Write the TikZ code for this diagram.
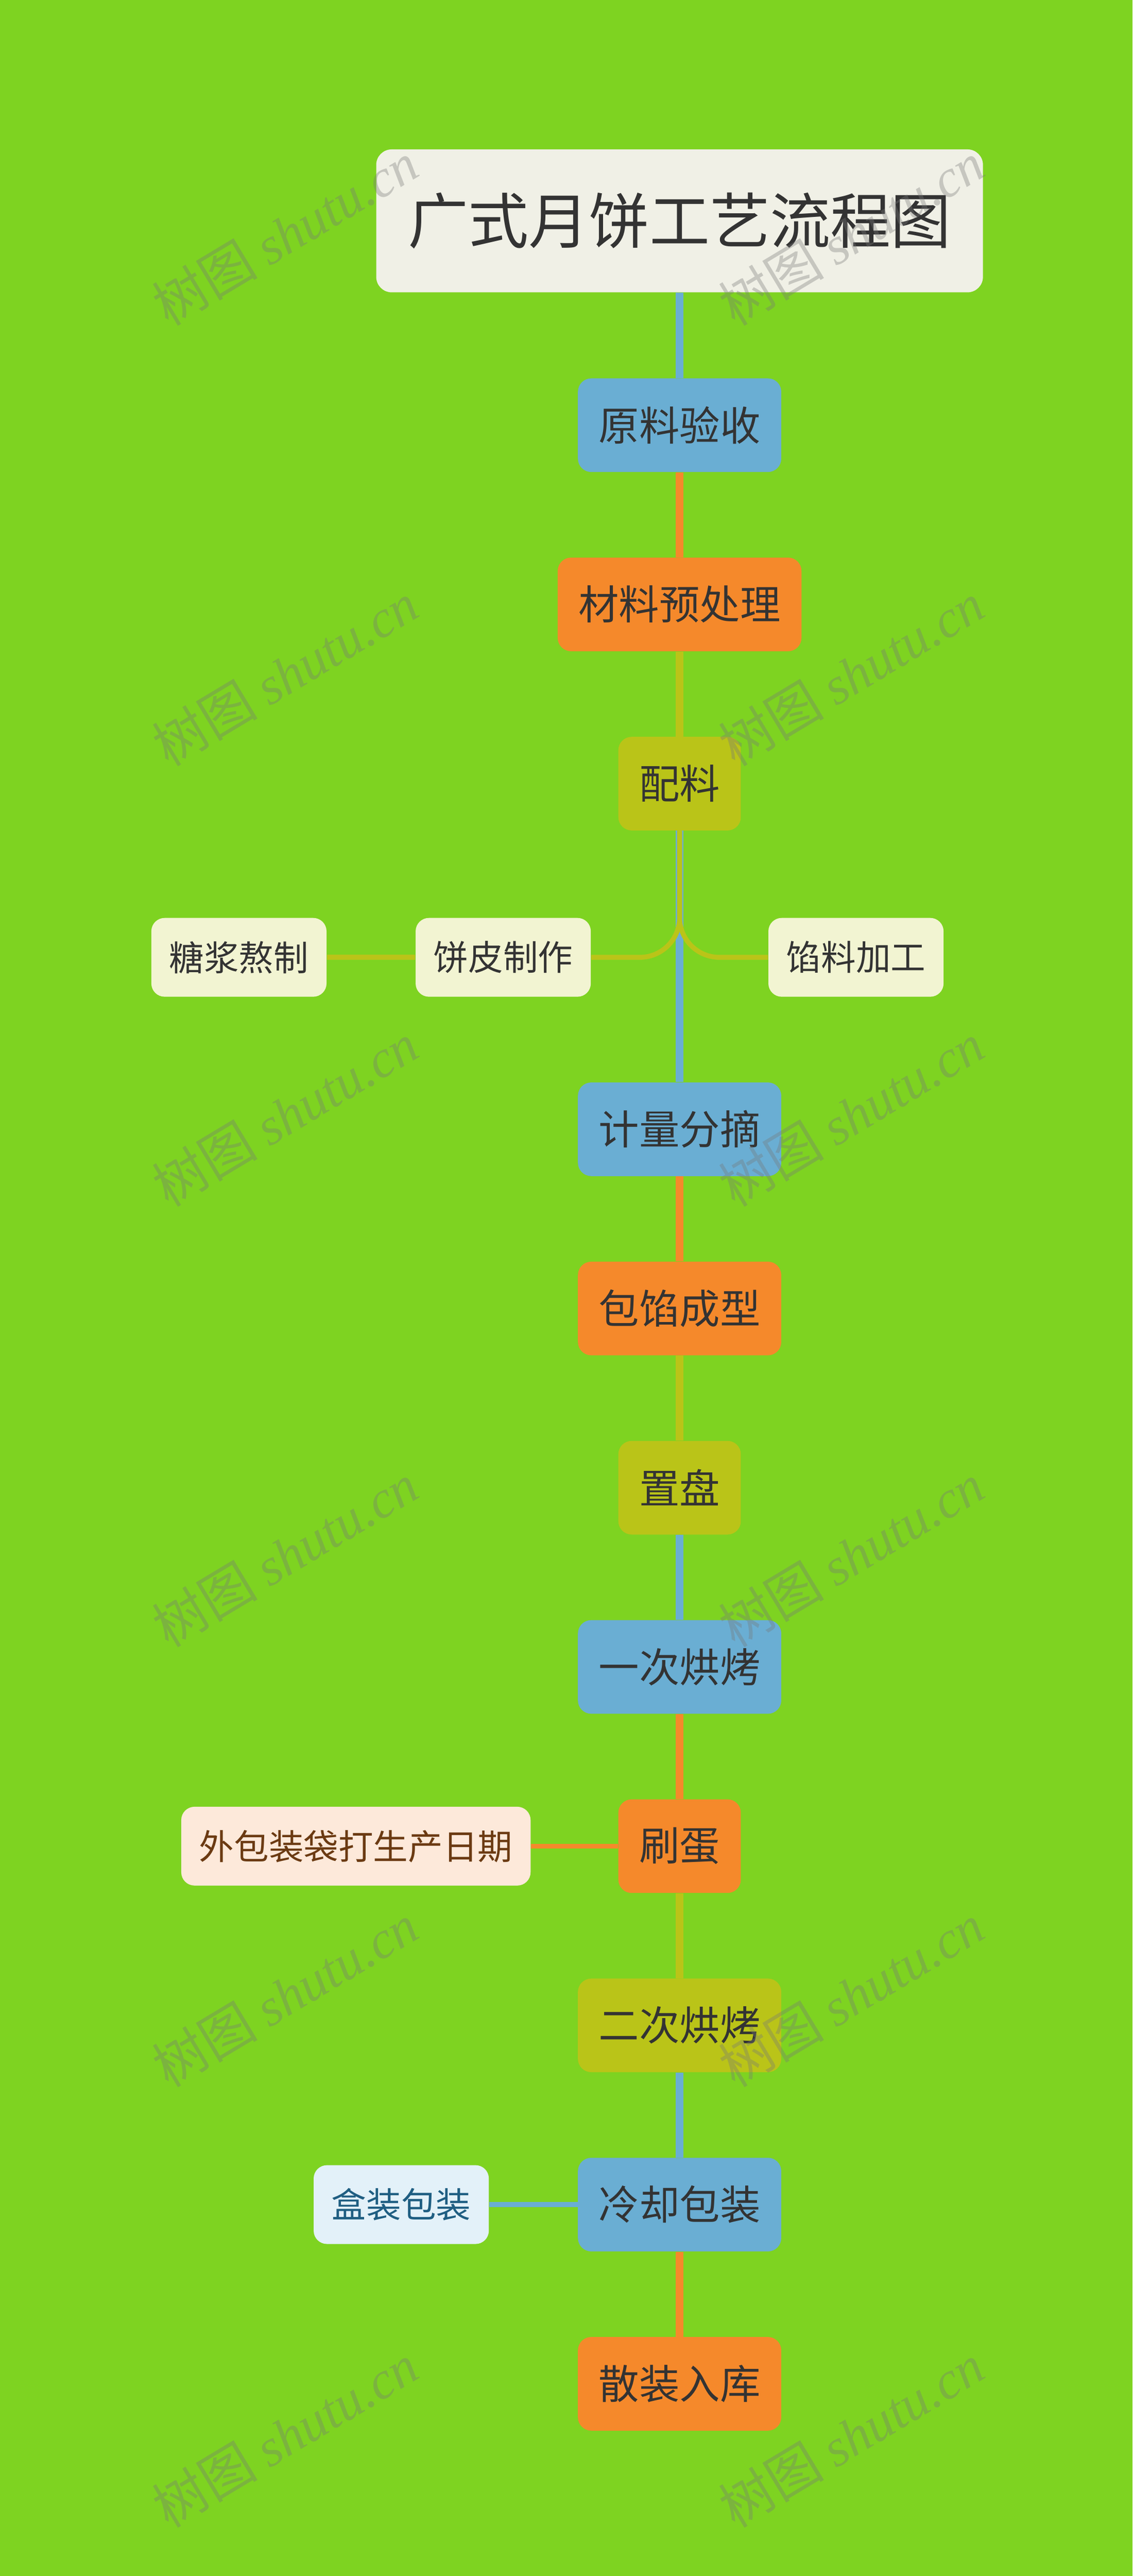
\documentclass[tikz,border=0pt]{standalone}
\usepackage{fontspec}
\setmainfont{Noto Sans CJK SC}
\newfontfamily\wmlatin{Liberation Serif}
\usepackage{tikz}
\usetikzlibrary{positioning, shapes}
\definecolor{grass}{HTML}{7ED321}
\definecolor{paper}{HTML}{F0F0E6}
\definecolor{ink}{HTML}{333333}
\definecolor{sky}{HTML}{6AAED3}
\definecolor{tangerine}{HTML}{F5892B}
\definecolor{olive}{HTML}{BAC418}
\definecolor{cream}{HTML}{F2F4D2}
\definecolor{peach}{HTML}{FDE9DA}
\definecolor{brown}{HTML}{6B3A12}
\definecolor{icy}{HTML}{E3F1F9}
\definecolor{navy}{HTML}{1F5E82}
\definecolor{wmgray}{HTML}{787878}
\tikzstyle{tblock} = [rectangle, fill=paper, text=ink, font=\fontsize{38.8pt}{40pt}\selectfont,
inner xsep=0.72cm, text centered, rounded corners=0.35cm, minimum height=3.23cm]
\tikzstyle{bblock} = [rectangle, fill=sky, text=ink, font=\fontsize{26pt}{28pt}\selectfont,
inner xsep=0.47cm, text centered, rounded corners=0.3cm, minimum height=2.115cm]
\tikzstyle{oblock} = [rectangle, fill=tangerine, text=ink, font=\fontsize{26pt}{28pt}\selectfont,
inner xsep=0.47cm, text centered, rounded corners=0.3cm, minimum height=2.115cm]
\tikzstyle{yblock} = [rectangle, fill=olive, text=ink, font=\fontsize{26pt}{28pt}\selectfont,
inner xsep=0.47cm, text centered, rounded corners=0.3cm, minimum height=2.115cm]
\tikzstyle{cblock} = [rectangle, fill=cream, text=ink, font=\fontsize{22.4pt}{24pt}\selectfont,
inner xsep=0.405cm, text centered, rounded corners=0.3cm, minimum height=1.78cm]
\tikzstyle{sblock} = [rectangle, fill=peach, text=brown, font=\fontsize{22.4pt}{24pt}\selectfont,
inner xsep=0.405cm, text centered, rounded corners=0.3cm, minimum height=1.78cm]
\tikzstyle{lblock} = [rectangle, fill=icy, text=navy, font=\fontsize{22.4pt}{24pt}\selectfont,
inner xsep=0.405cm, text centered, rounded corners=0.3cm, minimum height=1.78cm]
\tikzstyle{bline} = [line width=0.17cm, sky]
\tikzstyle{oline} = [line width=0.17cm, tangerine]
\tikzstyle{yline} = [line width=0.17cm, olive]
\tikzstyle{ybranch} = [line width=0.11cm, olive]
\tikzstyle{obranch} = [line width=0.11cm, tangerine]
\tikzstyle{bbranch} = [line width=0.11cm, sky]
\tikzstyle{wm} = [text=wmgray, text opacity=0.35, rotate=31, font=\fontsize{34pt}{36pt}\selectfont]

\begin{document}
\begin{tikzpicture}[node distance=2cm]
                \fill[grass] (0,0) rectangle (25.6,-58.2);
                \useasboundingbox (0,0) rectangle (25.6,-58.2);
                \node (1) [tblock] at (15.36,-4.99) {广式月饼工艺流程图};
                \node (2) [bblock, below=1.93cm of 1] {原料验收};
                \node (3) [oblock, below=1.92cm of 2] {材料预处理};
                \node (4) [yblock, below=1.92cm of 3] {配料};
                \coordinate[below=2.86cm of 4] (5);
                \node (6) [cblock, left=of 5] {饼皮制作};
                \node (7) [cblock, left=of 6] {糖浆熬制};
                \node (8) [cblock, right=of 5] {馅料加工};
                \node (9) [bblock, below=2.82cm of 5] {计量分摘};
                \node (10) [oblock, below=1.92cm of 9] {包馅成型};
                \node (11) [yblock, below=1.92cm of 10] {置盘};
                \node (12) [bblock, below=1.92cm of 11] {一次烘烤};
                \node (13) [oblock, below=1.92cm of 12] {刷蛋};
                \node (14) [sblock, left=1.97cm of 13] {外包装袋打生产日期};
                \node (15) [yblock, below=1.92cm of 13] {二次烘烤};
                \node (16) [bblock, below=1.92cm of 15] {冷却包装};
                \node (17) [lblock, left=of 16] {盒装包装};
                \node (18) [oblock, below=1.92cm of 16] {散装入库};
                \draw [bline] (1) -- (2);
                \draw [oline] (2) -- (3);
                \draw [yline] (3) -- (4);
                \draw [bline] (4) -- (9);
                \draw [ybranch, rounded corners=0.9cm] (4.south) |- (6.east);
                \draw [ybranch, rounded corners=0.9cm] (4.south) |- (8.west);
                \draw [ybranch] (6) -- (7);
                \draw [oline] (9) -- (10);
                \draw [yline] (10) -- (11);
                \draw [bline] (11) -- (12);
                \draw [oline] (12) -- (13);
                \draw [obranch] (13) -- (14);
                \draw [yline] (13) -- (15);
                \draw [bline] (15) -- (16);
                \draw [bbranch] (16) -- (17);
                \draw [oline] (16) -- (18);
                \foreach \k in {0,...,5} {
                \node (wl\k) [wm] at (6.44,-5.28-9.95*\k) {树图 {\wmlatin\itshape shutu.cn}};
                \node (wr\k) [wm] at (19.24,-5.28-9.95*\k) {树图 {\wmlatin\itshape shutu.cn}};
                }
        \end{tikzpicture}
\end{document}
